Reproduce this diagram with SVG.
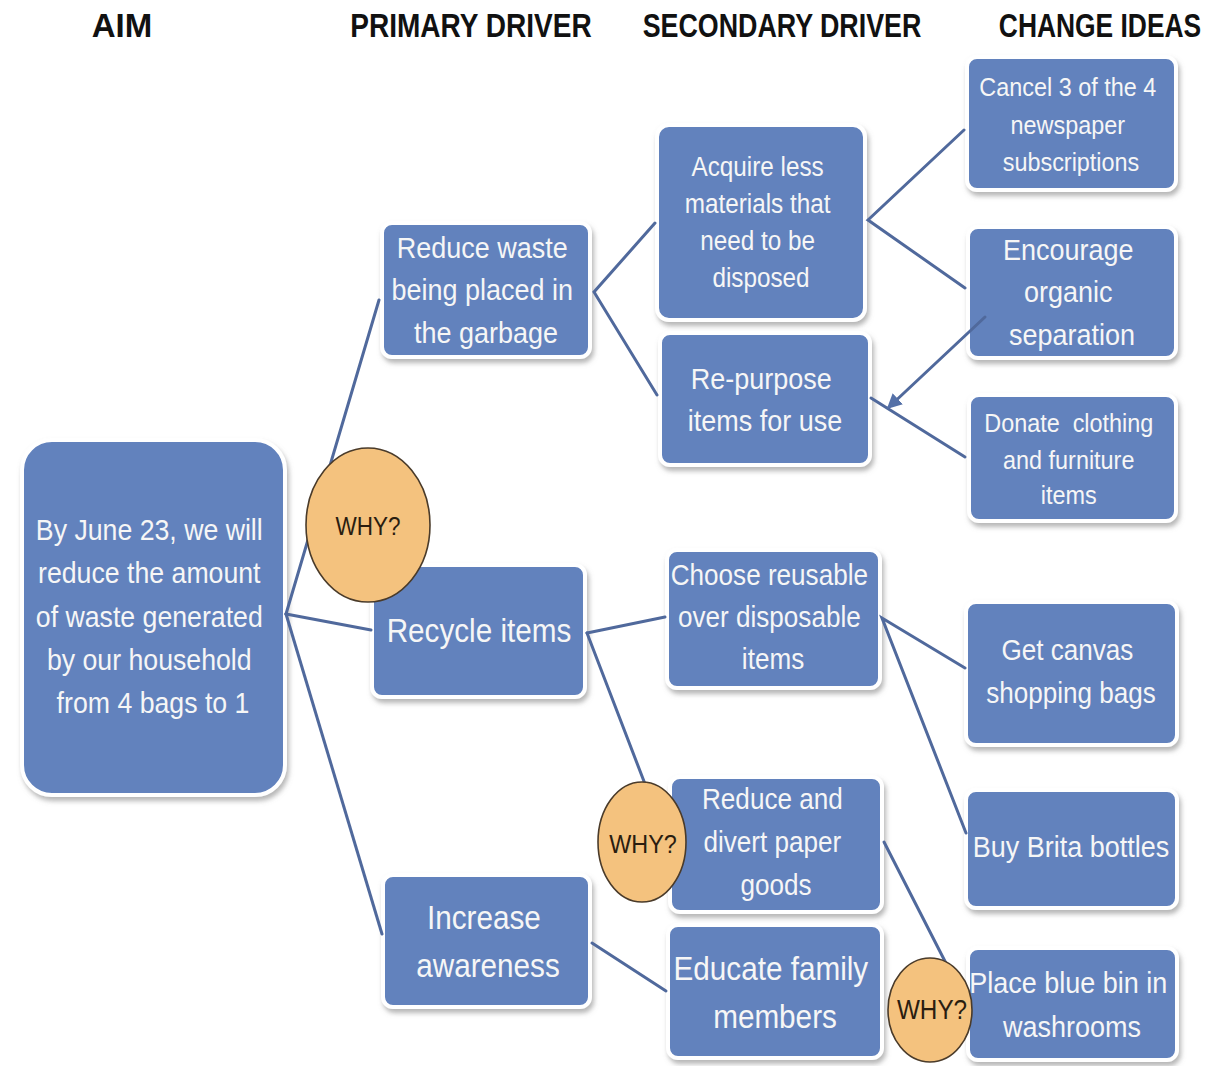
<svg xmlns="http://www.w3.org/2000/svg" width="1209" height="1066" viewBox="0 0 1209 1066">
<defs>
<filter id="sh" x="-10%" y="-10%" width="125%" height="125%">
<feDropShadow dx="2" dy="4" stdDeviation="2.5" flood-color="#7a7a7a" flood-opacity="0.55"/>
</filter>
<marker id="ah" viewBox="0 0 10 10" refX="8" refY="5" markerWidth="5" markerHeight="5" orient="auto">
<path d="M0,0 L10,5 L0,10 z" fill="#5571a8"/>
</marker>
<style>
.box{fill:#6282bd;stroke:#ffffff;stroke-width:4;filter:url(#sh);}
.t{font-family:"Liberation Sans",Arial,sans-serif;fill:#f6f6f6;text-anchor:middle;}
.h{font-family:"Liberation Sans",Arial,sans-serif;font-weight:bold;fill:#111;font-size:33px;text-anchor:middle;}
.why{fill:#f4c27e;stroke:#4a3b2a;stroke-width:1.6;}
.wt{font-family:"Liberation Sans",Arial,sans-serif;fill:#2a1d10;text-anchor:middle;}
.c{stroke:#50699c;stroke-width:3;fill:none;stroke-linecap:round;}
</style>
</defs>
<rect width="1209" height="1066" fill="#ffffff"/>

<g id="headers">
<text class="h" x="0" y="37" transform="translate(122 0)">AIM</text>
<text class="h" x="0" y="37" transform="translate(471 0) scale(0.85 1)">PRIMARY DRIVER</text>
<text class="h" x="0" y="37" transform="translate(782 0) scale(0.813 1)">SECONDARY DRIVER</text>
<text class="h" x="0" y="37" transform="translate(1100 0) scale(0.8 1)">CHANGE IDEAS</text>
</g>

<g id="aim">
<rect class="box" x="22" y="440" width="263" height="355" rx="30"/>
<text class="t" font-size="30" transform="translate(153 0) scale(0.89 1)">
<tspan x="0" y="540">By June 23, we will</tspan>
<tspan x="0" y="583">reduce the amount</tspan>
<tspan x="0" y="627">of waste generated</tspan>
<tspan x="0" y="670">by our household</tspan>
<tspan x="0" y="713">from 4 bags to 1</tspan>
</text>
</g>

<g id="p1">
<rect class="box" x="382" y="223" width="208" height="134" rx="10"/>
<text class="t" font-size="30" transform="translate(486 0) scale(0.9 1)">
<tspan x="0" y="258">Reduce waste</tspan>
<tspan x="0" y="300">being placed in</tspan>
<tspan x="0" y="343">the garbage</tspan>
</text>
</g>

<g id="p2">
<rect class="box" x="372" y="565" width="213" height="132" rx="10"/>
<text class="t" font-size="33" transform="translate(479 0) scale(0.9 1)">
<tspan x="0" y="642">Recycle items</tspan>
</text>
</g>

<g id="p3">
<rect class="box" x="383" y="875" width="207" height="132" rx="10"/>
<text class="t" font-size="33" transform="translate(488 0) scale(0.9 1)">
<tspan x="0" y="929">Increase</tspan>
<tspan x="0" y="977">awareness</tspan>
</text>
</g>

<g id="s1">
<rect class="box" x="657" y="125" width="208" height="195" rx="12"/>
<text class="t" font-size="27" transform="translate(761 0) scale(0.9 1)">
<tspan x="0" y="176">Acquire less</tspan>
<tspan x="0" y="213">materials that</tspan>
<tspan x="0" y="250">need to be</tspan>
<tspan x="0" y="287">disposed</tspan>
</text>
</g>

<g id="s2">
<rect class="box" x="660" y="333" width="210" height="132" rx="10"/>
<text class="t" font-size="30" transform="translate(765 0) scale(0.9 1)">
<tspan x="0" y="389">Re-purpose</tspan>
<tspan x="0" y="431">items for use</tspan>
</text>
</g>

<g id="s3">
<rect class="box" x="667" y="550" width="213" height="138" rx="10"/>
<text class="t" font-size="29" transform="translate(773 0) scale(0.9 1)">
<tspan x="0" y="585">Choose reusable</tspan>
<tspan x="0" y="627">over disposable</tspan>
<tspan x="0" y="669">items</tspan>
</text>
</g>

<g id="s4">
<rect class="box" x="670" y="777" width="212" height="135" rx="10"/>
<text class="t" font-size="29" transform="translate(776 0) scale(0.9 1)">
<tspan x="0" y="809">Reduce and</tspan>
<tspan x="0" y="852">divert paper</tspan>
<tspan x="0" y="895">goods</tspan>
</text>
</g>

<g id="s5">
<rect class="box" x="668" y="925" width="214" height="133" rx="10"/>
<text class="t" font-size="33" transform="translate(775 0) scale(0.9 1)">
<tspan x="0" y="980">Educate family</tspan>
<tspan x="0" y="1028">members</tspan>
</text>
</g>

<g id="c1">
<rect class="box" x="967" y="57" width="209" height="133" rx="10"/>
<text class="t" font-size="26" transform="translate(1071 0) scale(0.9 1)">
<tspan x="0" y="96">Cancel 3 of the 4</tspan>
<tspan x="0" y="134">newspaper</tspan>
<tspan x="0" y="171">subscriptions</tspan>
</text>
</g>

<g id="c2">
<rect class="box" x="968" y="227" width="208" height="131" rx="10"/>
<text class="t" font-size="30" transform="translate(1072 0) scale(0.9 1)">
<tspan x="0" y="260">Encourage</tspan>
<tspan x="0" y="302">organic</tspan>
<tspan x="0" y="345">separation</tspan>
</text>
</g>

<g id="c3">
<rect class="box" x="969" y="395" width="207" height="126" rx="10"/>
<text class="t" font-size="26" transform="translate(1072 0) scale(0.9 1)" style="white-space:pre">
<tspan x="0" y="432">Donate  clothing</tspan>
<tspan x="0" y="469">and furniture</tspan>
<tspan x="0" y="504">items</tspan>
</text>
</g>

<g id="c4">
<rect class="box" x="966" y="602" width="211" height="143" rx="10"/>
<text class="t" font-size="29" transform="translate(1071 0) scale(0.9 1)">
<tspan x="0" y="660">Get canvas</tspan>
<tspan x="0" y="703">shopping bags</tspan>
</text>
</g>

<g id="c5">
<rect class="box" x="966" y="790" width="211" height="118" rx="10"/>
<text class="t" font-size="30" transform="translate(1071 0) scale(0.9 1)">
<tspan x="0" y="857">Buy Brita bottles</tspan>
</text>
</g>

<g id="c6">
<rect class="box" x="968" y="948" width="209" height="112" rx="10"/>
<text class="t" font-size="30" transform="translate(1072 0) scale(0.9 1)">
<tspan x="0" y="993">Place blue bin in</tspan>
<tspan x="0" y="1037">washrooms</tspan>
</text>
</g>

<g id="connectors">
<line class="c" x1="286" y1="614" x2="379" y2="300"/>
<line class="c" x1="286" y1="614" x2="371" y2="630"/>
<line class="c" x1="286" y1="614" x2="382" y2="934"/>
<polyline class="c" points="655,223 594,292 657,395"/>
<polyline class="c" points="964,130 868,220 965,288"/>
<line class="c" x1="871" y1="398" x2="965" y2="457"/>
<line class="c" x1="985" y1="317" x2="889" y2="407" marker-end="url(#ah)"/>
<line class="c" x1="587" y1="633" x2="665" y2="617"/>
<line class="c" x1="587" y1="633" x2="655" y2="810"/>
<polyline class="c" points="965,668 882,618 966,833"/>
<line class="c" x1="884" y1="842" x2="952" y2="975"/>
<line class="c" x1="592" y1="943" x2="666" y2="991"/>
</g>

<g id="why1">
<ellipse class="why" cx="368" cy="525" rx="62" ry="77"/>
<text class="wt" font-size="25" transform="translate(368 0) scale(0.9 1)"><tspan x="0" y="535">WHY?</tspan></text>
</g>
<g id="why2">
<ellipse class="why" cx="642" cy="842" rx="44" ry="60"/>
<text class="wt" font-size="26" transform="translate(643 0) scale(0.9 1)"><tspan x="0" y="853">WHY?</tspan></text>
</g>
<g id="why3">
<ellipse class="why" cx="930" cy="1010" rx="42" ry="52"/>
<text class="wt" font-size="27" transform="translate(932 0) scale(0.9 1)"><tspan x="0" y="1019">WHY?</tspan></text>
</g>
</svg>
